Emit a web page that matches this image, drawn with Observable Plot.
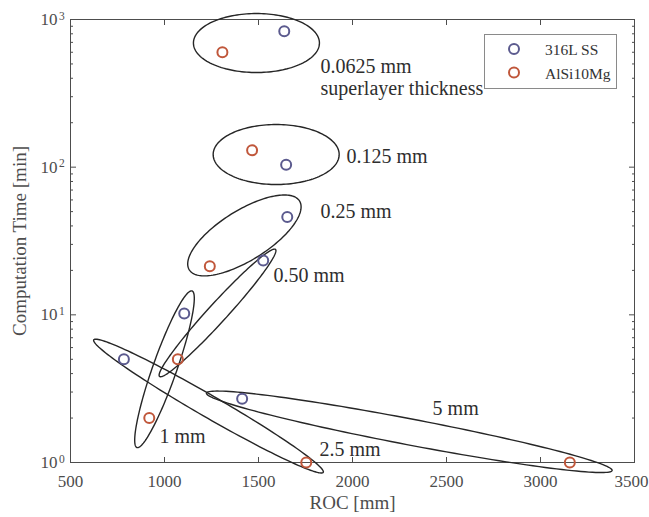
<!DOCTYPE html>
<html>
<head>
<meta charset="utf-8">
<script src="https://cdn.jsdelivr.net/npm/d3@7"></script>
<script src="https://cdn.jsdelivr.net/npm/@observablehq/plot@0.6"></script>
<style>
  body { margin: 0; background: #fff; }
  #wrap { position: relative; width: 649px; height: 517px; font-family: "Liberation Serif", "Times New Roman", serif; }
  #legend { position: absolute; left: 484px; top: 34px; width: 133px; height: 55px; box-sizing: border-box;
            border: 1px solid #8a8a8a; background: #fff; }
</style>
</head>
<body>
<div id="wrap"><div id="legend"></div></div>
<script>
// ---------- data ----------
const thickness = ["0.0625 mm", "0.125 mm", "0.25 mm", "0.50 mm", "1 mm", "2.5 mm", "5 mm"];
const ss316ROC  = [1637, 1647, 1653, 1525, 1105, 784, 1413];
const ss316Time = [833, 104, 46, 23.3, 10.2, 5.0, 2.7];
const alsiROC   = [1308, 1466, 1241, 1071, 919, 1754, 3156];
const alsiTime  = [600, 130, 21.3, 5.0, 2.0, 1.0, 1.0];
const seriesNames = ["316L SS", "AlSi10Mg"];
const xTicks = [500, 1000, 1500, 2000, 2500, 3000, 3500];
const yTicks = [1, 10, 100, 1000];
const yExponents = ["0", "1", "2", "3"];

// ---------- annotations (grouping ellipses and labels) ----------
const ellipseCX = [1489, 1594, 1425, 1282, 1000, 1234, 2302];
const ellipseCY = [693, 121.8, 34.5, 10.3, 4.28, 2.41, 1.614];
const ellipseA = [63, 63, 65, 86, 83, 132.5, 206.5];
const ellipseB = [29.5, 30, 25, 9.5, 12, 11, 13];
const ellipseAngle = [0, 0, -32, -47.6, -70.6, 30, 10.8];
const labelText = ["0.0625 mm\nsuperlayer thickness", "0.125 mm", "0.25 mm", "0.50 mm", "1 mm", "2.5 mm", "5 mm"];
const labelX = [1830, 1968, 1830, 1580, 973, 1824, 2426];
const labelY = [306, 107.5, 45.6, 16.56, 1.345, 1.115, 2.113];

// ---------- layout / style ----------
const W = 649, H = 517, mL = 70, mR = 15, mT = 19, mB = 55;
const colors = ["#5b5a8e", "#c0573b"];
const axisColor = "#4d4d4d";
const xDomain = [500, 3500], yDomain = [1, 1000];

const points = [];
thickness.forEach((t, i) => {
  points.push({series: seriesNames[0], thickness: t, roc: ss316ROC[i], time: ss316Time[i]});
  points.push({series: seriesNames[1], thickness: t, roc: alsiROC[i], time: alsiTime[i]});
});

// ellipses are defined in screen space (pixel semi-axes), converted to data space
const kx = (W - mL - mR) / (xDomain[1] - xDomain[0]);
const ky = (H - mT - mB) / Math.log10(yDomain[1] / yDomain[0]);
const ellipsePts = [];
thickness.forEach((t, i) => {
  const th = ellipseAngle[i] * Math.PI / 180;
  const N = 160;
  for (let k = 0; k <= N; k++) {
    const u = 2 * Math.PI * k / N;
    const ex = ellipseA[i] * Math.cos(u), ey = ellipseB[i] * Math.sin(u);
    const dx = ex * Math.cos(th) - ey * Math.sin(th);
    const dy = ex * Math.sin(th) + ey * Math.cos(th);
    ellipsePts.push({id: t, x: ellipseCX[i] + dx / kx, y: ellipseCY[i] * Math.pow(10, -dy / ky)});
  }
});

const labels = labelText.map((s, i) => ({text: s, x: labelX[i], y: labelY[i]}));

const minorY = [];
for (const d of [1, 10, 100]) for (let m = 2; m <= 9; m++) minorY.push(d * m);

const lastX = xTicks[xTicks.length - 1];

const plot = Plot.plot({
  width: W, height: H,
  marginLeft: mL, marginRight: mR, marginTop: mT, marginBottom: mB,
  style: {fontFamily: '"Liberation Serif", "Times New Roman", serif', background: "transparent", overflow: "visible"},
  x: {domain: xDomain, axis: null},
  y: {type: "log", domain: yDomain, axis: null},
  color: {domain: seriesNames, range: colors},
  marks: [
    Plot.frame({stroke: axisColor, strokeWidth: 1}),
    // x ticks bottom & top (inward)
    Plot.axisX(xTicks, {anchor: "bottom", tickSize: -5, tickFormat: () => "", label: null, stroke: axisColor}),
    Plot.axisX(xTicks, {anchor: "top", tickSize: -5, tickFormat: () => "", label: null, stroke: axisColor}),
    // x tick labels (last one nudged so it stays inside the page)
    Plot.text(xTicks.filter(d => d !== lastX), {x: d => d, frameAnchor: "bottom", text: d => String(d), textAnchor: "middle", lineAnchor: "top", dy: 12, fontSize: 17, fill: axisColor}),
    Plot.text([lastX], {x: d => d, frameAnchor: "bottom", text: d => String(d), textAnchor: "end", lineAnchor: "top", dy: 12, dx: 14, fontSize: 17, fill: axisColor}),
    // y ticks left & right (inward), major and minor
    Plot.axisY(yTicks, {anchor: "left", tickSize: -6, tickFormat: () => "", label: null, stroke: axisColor}),
    Plot.axisY(yTicks, {anchor: "right", tickSize: -6, tickFormat: () => "", label: null, stroke: axisColor}),
    Plot.axisY(minorY, {anchor: "left", tickSize: -3, tickFormat: () => "", label: null, stroke: axisColor}),
    Plot.axisY(minorY, {anchor: "right", tickSize: -3, tickFormat: () => "", label: null, stroke: axisColor}),
    // y tick labels 10^n
    Plot.text(yTicks, {y: d => d, frameAnchor: "left", text: () => "10", textAnchor: "end", dx: -13, fontSize: 17, fill: axisColor}),
    Plot.text(yTicks, {y: d => d, frameAnchor: "left", text: (d, i) => yExponents[i], textAnchor: "start", dx: -11.5, lineAnchor: "bottom", dy: 0, fontSize: 11.5, fill: axisColor}),
    // axis titles
    Plot.text(["ROC [mm]"], {frameAnchor: "bottom", text: d => d, textAnchor: "middle", dy: 46, fontSize: 19, fill: axisColor}),
    Plot.text(["Computation Time [min]"], {frameAnchor: "left", text: d => d, textAnchor: "middle", rotate: -90, dx: -51, fontSize: 19, fill: axisColor}),
    // grouping ellipses
    Plot.line(ellipsePts, {x: "x", y: "y", z: "id", stroke: "#262626", strokeWidth: 1.4}),
    // data points
    Plot.dot(points, {x: "roc", y: "time", stroke: "series", r: 5, strokeWidth: 2, fill: "none"}),
    // labels
    Plot.text(labels, {x: "x", y: "y", text: "text", textAnchor: "start", lineAnchor: "bottom", lineHeight: 1.1, fontSize: 20, fill: "#2e2e2e"})
  ]
});
document.getElementById("wrap").prepend(plot);

// legend
const lg = d3.select("#legend").append("svg").attr("width", 131).attr("height", 53);
seriesNames.forEach((s, i) => {
  lg.append("circle").attr("cx", 29).attr("cy", 14 + i * 23.5).attr("r", 5)
    .attr("fill", "none").attr("stroke", colors[i]).attr("stroke-width", 2);
  lg.append("text").attr("x", 60).attr("y", 19.5 + i * 24)
    .attr("font-family", '"Liberation Serif", "Times New Roman", serif').attr("font-size", 15.5)
    .attr("fill", "#333").text(s);
});
</script>
</body>
</html>
